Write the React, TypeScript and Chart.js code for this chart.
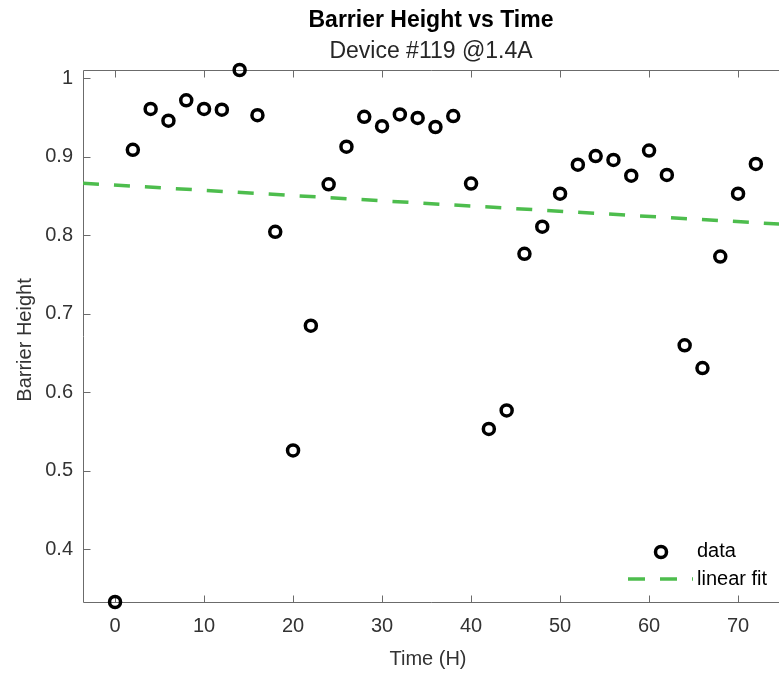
import React, { useEffect, useRef } from 'react';
import { Chart, registerables } from 'chart.js';

Chart.register(...registerables);

const timeH = [0, 2, 4, 6, 8, 10, 12, 14, 16, 18, 20, 22, 24, 26, 28, 30, 32, 34, 36, 38, 40, 42, 44, 46, 48, 50, 52, 54, 56, 58, 60, 62, 64, 66, 68, 70, 72];
const barrierHeight = [0.333, 0.909, 0.961, 0.946, 0.972, 0.961, 0.960, 1.0106, 0.953, 0.8045, 0.526, 0.685, 0.865, 0.913, 0.951, 0.939, 0.954, 0.9495, 0.938, 0.952, 0.866, 0.5535, 0.577, 0.7765, 0.811, 0.853, 0.890, 0.901, 0.896, 0.876, 0.908, 0.877, 0.660, 0.631, 0.773, 0.853, 0.891];
const fitTime = [-3.6, 75.6];
const fitHeight = [0.8664, 0.8137];
const xTicks = [0, 10, 20, 30, 40, 50, 60, 70];
const yTicks = [0.4, 0.5, 0.6, 0.7, 0.8, 0.9, 1];
const xRange = [-3.6, 74.6];
const yRange = [0.333, 1.0106];

const titleText = 'Barrier Height vs Time';
const subtitleText = 'Device #119 @1.4A';
const xLabel = 'Time (H)';
const yLabel = 'Barrier Height';
const legendLabels = ['data', 'linear fit'];

const FONT = '"Liberation Sans", Arial, Helvetica, sans-serif';
const GREEN = '#4dbd4d';
const AXIS = '#6b6b6b';
const TXT = '#333333';

export default function App() {
  const ref = useRef<HTMLCanvasElement>(null);

  useEffect(() => {
    if (!ref.current) return;

    const decor = {
      id: 'matlabDecor',
      beforeDatasetsDraw(chart: any) {
        const { ctx, chartArea: a, scales } = chart;
        ctx.save();
        ctx.strokeStyle = AXIS;
        ctx.lineWidth = 1;
        ctx.setLineDash([]);
        ctx.beginPath();
        const L = Math.round(a.left) + 0.5;
        const B = Math.round(a.bottom) + 0.5;
        const T = Math.round(a.top) + 0.5;
        ctx.moveTo(L, T);
        ctx.lineTo(L, B);
        ctx.moveTo(L, B);
        ctx.lineTo(a.right, B);
        ctx.moveTo(L, T);
        ctx.lineTo(a.right, T);
        const tl = 7;
        scales.x.ticks.forEach((t: any) => {
          const px = Math.round(scales.x.getPixelForValue(t.value)) + 0.5;
          ctx.moveTo(px, B);
          ctx.lineTo(px, B - tl);
          ctx.moveTo(px, T);
          ctx.lineTo(px, T + tl);
        });
        scales.y.ticks.forEach((t: any) => {
          const py = Math.round(scales.y.getPixelForValue(t.value)) + 0.5;
          ctx.moveTo(L, py);
          ctx.lineTo(L + tl, py);
        });
        ctx.stroke();
        ctx.restore();
      },
      afterDraw(chart: any) {
        const { ctx, chartArea: a } = chart;
        ctx.save();
        const cx = (a.left + a.right) / 2;
        ctx.textAlign = 'center';
        ctx.textBaseline = 'alphabetic';
        ctx.fillStyle = '#000';
        ctx.font = `bold 23px ${FONT}`;
        ctx.fillText(titleText, cx, 26.5);
        ctx.fillStyle = '#262626';
        ctx.font = `23px ${FONT}`;
        ctx.fillText(subtitleText, cx, 57.5);

        ctx.fillStyle = TXT;
        ctx.font = `20px ${FONT}`;
        ctx.fillText(xLabel, cx - 3, 665);
        ctx.save();
        ctx.translate(31, (a.top + a.bottom) / 2 + 4);
        ctx.rotate(-Math.PI / 2);
        ctx.fillText(yLabel, 0, 0);
        ctx.restore();

        // legend
        ctx.setLineDash([]);
        ctx.lineDashOffset = 0;
        ctx.strokeStyle = '#000';
        ctx.lineWidth = 3.5;
        ctx.beginPath();
        ctx.arc(661, 552, 5.5, 0, Math.PI * 2);
        ctx.stroke();
        ctx.fillStyle = '#000';
        ctx.textAlign = 'left';
        ctx.font = `20px ${FONT}`;
        ctx.fillText(legendLabels[0], 697, 557);
        ctx.strokeStyle = GREEN;
        ctx.lineWidth = 3.5;
        ctx.lineCap = 'butt';
        ctx.setLineDash([17, 15]);
        ctx.lineDashOffset = 0;
        ctx.beginPath();
        ctx.moveTo(628, 579);
        ctx.lineTo(693, 579);
        ctx.stroke();
        ctx.setLineDash([]);
        ctx.fillText(legendLabels[1], 697, 585);
        ctx.restore();
      },
    };

    const chart = new Chart(ref.current, {
      type: 'scatter',
      data: {
        datasets: [
          {
            label: legendLabels[0],
            data: timeH.map((x, i) => ({ x, y: barrierHeight[i] })),
            pointRadius: 5.5,
            pointHoverRadius: 5.5,
            pointBorderWidth: 3.5,
            borderColor: '#000',
            backgroundColor: 'rgba(0,0,0,0)',
            pointStyle: 'circle',
            showLine: false,
            clip: false as any,
          },
          {
            label: legendLabels[1],
            data: fitTime.map((x, i) => ({ x, y: fitHeight[i] })),
            showLine: true,
            borderColor: GREEN,
            borderWidth: 3.5,
            borderDash: [16, 15],
            pointRadius: 0,
            fill: false,
          },
        ],
      },
      options: {
        responsive: false,
        animation: false,
        devicePixelRatio: 1,
        layout: { autoPadding: false, padding: { top: 70, left: 0, right: 0, bottom: 0 } },
        plugins: {
          legend: { display: false },
          tooltip: { enabled: false },
          title: { display: false },
        },
        scales: {
          x: {
            type: 'linear',
            min: xRange[0],
            max: xRange[1],
            afterBuildTicks: (s: any) => {
              s.ticks = xTicks.map((v) => ({ value: v }));
            },
            afterFit: (s: any) => {
              s.height = 72;
              s.paddingLeft = 0;
              s.paddingRight = 0;
            },
            grid: { display: false, drawTicks: false },
            border: { display: false },
            ticks: {
              font: { family: FONT, size: 20 },
              color: TXT,
              padding: 12,
              maxRotation: 0,
              autoSkip: false,
              callback: (v: any) => String(v),
            },
          },
          y: {
            type: 'linear',
            min: yRange[0],
            max: yRange[1],
            afterBuildTicks: (s: any) => {
              s.ticks = yTicks.map((v) => ({ value: v }));
            },
            afterFit: (s: any) => {
              s.width = 83;
              s.paddingTop = 0;
              s.paddingBottom = 0;
            },
            grid: { display: false, drawTicks: false },
            border: { display: false },
            ticks: {
              font: { family: FONT, size: 20 },
              color: TXT,
              padding: 10,
              autoSkip: false,
              callback: (v: any) => String(Math.round(v * 10) / 10),
            },
          },
        },
      },
      plugins: [decor],
    });

    return () => chart.destroy();
  }, []);

  return (
    <div style={{ position: 'absolute', left: 0, top: 0, width: 779, height: 674, background: '#fff' }}>
      <canvas ref={ref} width={779} height={674} style={{ display: 'block' }} />
    </div>
  );
}
